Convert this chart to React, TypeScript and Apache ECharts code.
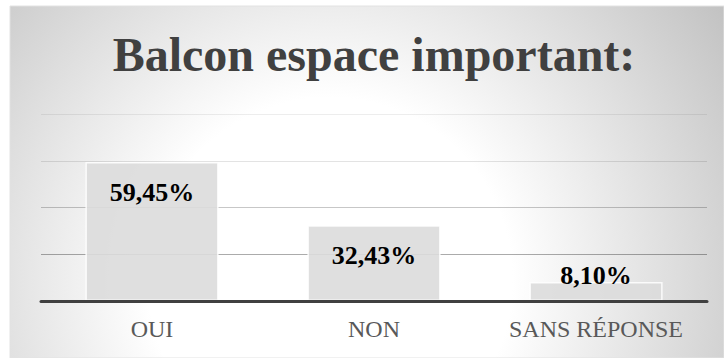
import React, { useEffect, useRef } from "react";
import * as echarts from "echarts";

const categories = ["OUI", "NON", "SANS RÉPONSE"];
const values = [59.45, 32.43, 8.1];
const valueLabels = ["59,45%", "32,43%", "8,10%"];
const titleText = "Balcon espace important:";

const SERIF = "'Liberation Serif', 'Times New Roman', serif";

export default function App() {
  const ref = useRef<HTMLDivElement>(null);

  useEffect(() => {
    if (!ref.current) return;
    const chart = echarts.init(ref.current, null, { renderer: "svg" });

    const data = values.map((v) => {
      const small = v < 15;
      return {
        value: v,
        label: small
          ? { position: "insideBottom", distance: 13 }
          : { position: "insideTop", distance: 17 },
      };
    });

    chart.setOption({
      animation: false,
      graphic: [
        {
          type: "rect",
          z: -100,
          silent: true,
          shape: { x: 10, y: 6, width: 714, height: 352 },
          style: {
            fill: new echarts.graphic.RadialGradient(
              330,
              280,
              480,
              [
                { offset: 0, color: "#ffffff" },
                { offset: 0.38, color: "#ffffff" },
                { offset: 1, color: "#c2c2c2" },
              ],
              true
            ),
            stroke: "#e2e2e2",
            lineWidth: 1,
          },
        },
        {
          type: "text",
          z: 10,
          x: 374,
          y: 54,
          silent: true,
          style: {
            text: titleText,
            font: `bold 48px ${SERIF}`,
            fill: "#404040",
            align: "center",
            verticalAlign: "middle",
          },
        },
      ],
      grid: { left: 41, right: 17, top: 114, bottom: 57, containLabel: false },
      xAxis: {
        type: "category",
        data: categories,
        axisTick: { show: false },
        axisLine: { show: true, lineStyle: { color: "#404040", width: 3 } },
        axisLabel: {
          interval: 0,
          color: "#595959",
          fontFamily: SERIF,
          fontSize: 24,
          margin: 16,
        },
        z: 5,
      },
      yAxis: {
        type: "value",
        min: 0,
        max: 80,
        interval: 20,
        axisLabel: { show: false },
        axisLine: { show: false },
        axisTick: { show: false },
        splitLine: {
          show: true,
          lineStyle: {
            width: 1.2,
            color: [
              "rgba(0,0,0,0)",
              "rgba(0,0,0,0.33)",
              "rgba(0,0,0,0.22)",
              "rgba(0,0,0,0.11)",
              "rgba(0,0,0,0.07)",
            ],
          },
        },
      },
      series: [
        {
          type: "bar",
          data,
          barWidth: "60%",
          itemStyle: {
            color: "rgba(220,220,220,0.9)",
            borderColor: "rgba(255,255,255,0.85)",
            borderWidth: 1.5,
          },
          label: {
            show: true,
            formatter: (p: any) => valueLabels[p.dataIndex],
            color: "#000000",
            fontFamily: SERIF,
            fontWeight: "bold",
            fontSize: 26,
          },
        },
      ],
    });

    return () => chart.dispose();
  }, []);

  return (
    <div
      ref={ref}
      style={{ position: "absolute", left: 0, top: 0, width: 724, height: 358 }}
    />
  );
}
